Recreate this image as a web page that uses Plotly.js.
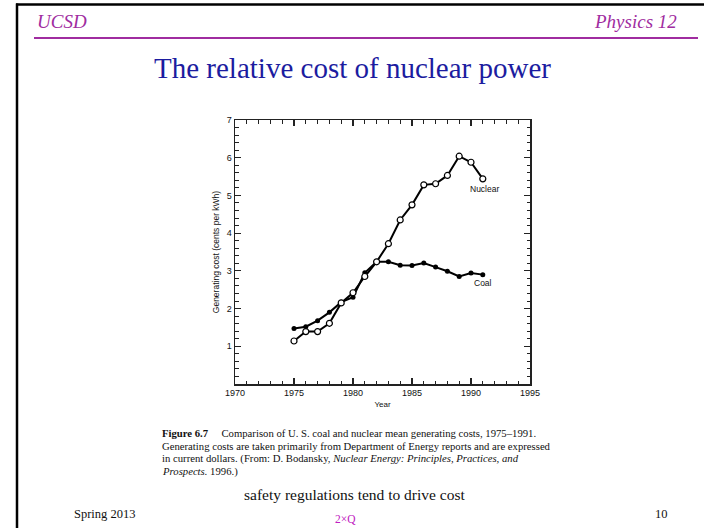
<!DOCTYPE html>
<html>
<head>
<meta charset="utf-8">
<script src="https://cdn.plot.ly/plotly-3.0.1.min.js"></script>
<style>html,body{margin:0;padding:0;background:#fff;}#chart{width:704px;height:528px;}</style>
</head>
<body>
<div id="chart"></div>
<script>
// ---- data ----
const years = [1975,1976,1977,1978,1979,1980,1981,1982,1983,1984,1985,1986,1987,1988,1989,1990,1991];
const coalCost = [1.47,1.52,1.68,1.90,2.17,2.30,2.95,3.24,3.24,3.15,3.14,3.21,3.10,2.99,2.85,2.94,2.90];
const nuclearCost = [1.14,1.39,1.39,1.61,2.15,2.42,2.85,3.24,3.72,4.35,4.75,5.28,5.31,5.53,6.04,5.88,5.44];
const xTickVals = [1970,1975,1980,1985,1990,1995];
const xTickText = ["1970","1975","1980","1985","1990","1995"];
const yTickVals = [1,2,3,4,5,6,7];
const yTickText = ["1","2","3","4","5","6","7"];
const seriesNames = ["Coal","Nuclear"];

// ---- layout geometry (pixels) ----
const W = 704, H = 528;
const L = 235, R = 530, T = 120, B = 384;
const px = x => (x - L) / (R - L);
const py = y => (B - y) / (B - T);

const serif = "Liberation Serif, Times New Roman, serif";
const sans = "Liberation Sans, Arial, Helvetica, sans-serif";
const purple = "#a02ca0";

const traces = [
  {x: years, y: coalCost, name: seriesNames[0], type: "scatter", mode: "lines+markers",
   line: {color: "#000", width: 2}, marker: {symbol: "circle", size: 5, color: "#000"}},
  {x: years, y: nuclearCost, name: seriesNames[1], type: "scatter", mode: "lines+markers",
   line: {color: "#000", width: 2}, marker: {symbol: "circle", size: 6, color: "#fff", line: {color: "#000", width: 1.2}}}
];

function ann(text, x, y, opts) {
  return Object.assign({text: text, x: px(x), y: py(y), xref: "paper", yref: "paper",
    showarrow: false, xanchor: "center", yanchor: "middle"}, opts || {});
}

const capFont = {family: serif, size: 10.7, color: "#111"};
const annotations = [
  ann("<i>UCSD</i>", 35, 21, {xanchor: "left", font: {family: serif, size: 19, color: purple}}),
  ann("<i>Physics 12</i>", 679, 21, {xanchor: "right", font: {family: serif, size: 19, color: purple}}),
  ann("The relative cost of nuclear power", 352, 68, {font: {family: serif, size: 29, color: "#1c1ca0"}}),
  ann("Nuclear", 484, 189, {font: {family: sans, size: 8.5, color: "#111"}}),
  ann("Coal", 483, 283, {font: {family: sans, size: 8.5, color: "#111"}}),
  ann("<b>Figure 6.7</b>     Comparison of U. S. coal and nuclear mean generating costs, 1975–1991.", 160, 433, {xanchor: "left", font: capFont}),
  ann("Generating costs are taken primarily from Department of Energy reports and are expressed", 160, 446, {xanchor: "left", font: capFont}),
  ann("in current dollars. (From: D. Bodansky, <i>Nuclear Energy: Principles, Practices, and</i>", 160, 458.5, {xanchor: "left", font: capFont}),
  ann("<i>Prospects.</i> 1996.)", 160, 471, {xanchor: "left", font: capFont}),
  ann("safety regulations tend to drive cost", 355, 494, {font: {family: serif, size: 15.5, color: "#111"}}),
  ann("Spring 2013", 72, 514, {xanchor: "left", font: {family: serif, size: 12.5, color: "#111"}}),
  ann("2×Q", 345, 519, {font: {family: serif, size: 11.5, color: "#c020c0"}}),
  ann("10", 670, 514, {xanchor: "right", font: {family: serif, size: 12.5, color: "#111"}})
];

const shapes = [
  {type: "line", xref: "paper", yref: "paper", x0: px(17), x1: px(17), y0: py(3.5), y1: py(530), line: {color: "#000", width: 2.5}},
  {type: "line", xref: "paper", yref: "paper", x0: px(16), x1: px(706), y0: py(4.5), y1: py(4.5), line: {color: "#000", width: 2.5}},
  {type: "line", xref: "paper", yref: "paper", x0: px(34), x1: px(698), y0: py(38), y1: py(38), line: {color: purple, width: 2}}
];

const layout = {
  width: W, height: H,
  margin: {l: L, r: W - R, t: T, b: H - B, pad: 0},
  paper_bgcolor: "#fff", plot_bgcolor: "#fff",
  showlegend: false,
  font: {family: sans, color: "#111"},
  xaxis: {
    range: [1970, 1995], tickvals: xTickVals, ticktext: xTickText,
    ticks: "inside", ticklen: 6, tickwidth: 1.2, tickcolor: "#222",
    minor: {dtick: 1, tick0: 1970, ticks: "inside", ticklen: 3.5, tickwidth: 1, tickcolor: "#222", showgrid: false},
    showline: true, linecolor: "#222", linewidth: 1.5, mirror: "allticks",
    showgrid: false, zeroline: false,
    tickfont: {family: sans, size: 9, color: "#111"},
    title: {text: "Year", font: {family: sans, size: 8, color: "#111"}, standoff: 4}
  },
  yaxis: {
    range: [0, 7], tickvals: yTickVals, ticktext: yTickText,
    ticks: "inside", ticklen: 6, tickwidth: 1.2, tickcolor: "#222",
    minor: {dtick: 0.2, tick0: 0, ticks: "inside", ticklen: 3.5, tickwidth: 1, tickcolor: "#222", showgrid: false},
    showline: true, linecolor: "#222", linewidth: 1.5, mirror: "allticks",
    showgrid: false, zeroline: false,
    tickfont: {family: sans, size: 9, color: "#111"},
    title: {text: "Generating cost (cents per kWh)", font: {family: sans, size: 8.5, color: "#111"}, standoff: 5}
  },
  annotations: annotations,
  shapes: shapes
};

Plotly.newPlot("chart", traces, layout, {displayModeBar: false, staticPlot: true});
</script>
</body>
</html>
